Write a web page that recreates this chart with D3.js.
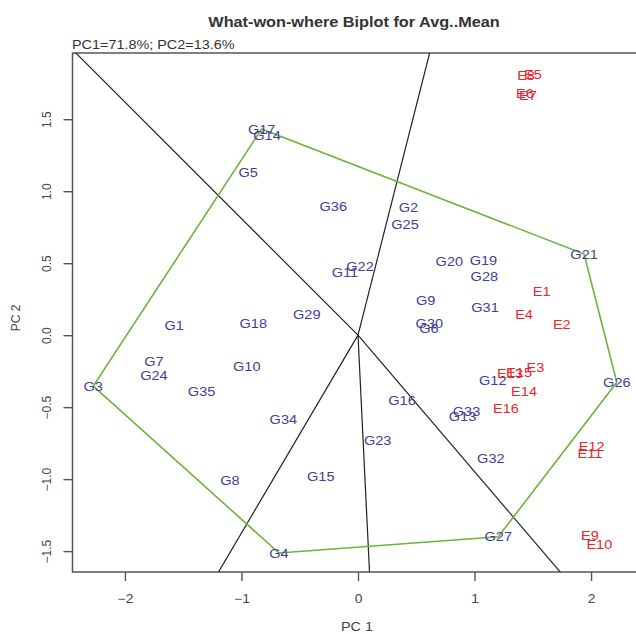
<!DOCTYPE html>
<html>
<head>
<meta charset="utf-8">
<script src="https://cdn.jsdelivr.net/npm/d3@7"></script>
<style>
	body { margin: 0; background: #fff; }
	svg { display: block; font-family: "Liberation Sans", Arial, sans-serif; }
</style>
</head>
<body>
<svg width="636" height="634"></svg>
<script>
// genotype scores (PC1, PC2)
const genotypes = ['G1','G2','G3','G4','G5','G6','G7','G8','G9','G10','G11','G12','G13','G14','G15','G16','G17','G18',
	'G19','G20','G21','G22','G23','G24','G25','G26','G27','G28','G29','G30','G31','G32','G33','G34','G35','G36']
const genoPC1 = [-1.577, 0.432, -2.272, -0.678, -0.942, 0.609, -1.751, -1.099, 0.581, -0.955, -0.112, 1.156, 0.897, -0.781, -0.320, 0.378, -0.827, -0.899,
	1.076, 0.784, 1.940, 0.017, 0.169, -1.751, 0.403, 2.221, 1.204, 1.084, -0.440, 0.612, 1.090, 1.140, 0.931, -0.641, -1.342, -0.212]
const genoPC2 = [0.071, 0.888, -0.353, -1.513, 1.129, 0.050, -0.184, -1.006, 0.240, -0.219, 0.437, -0.316, -0.561, 1.386, -0.983, -0.454, 1.432, 0.083,
	0.517, 0.511, 0.564, 0.476, -0.733, -0.277, 0.772, -0.327, -1.400, 0.406, 0.147, 0.083, 0.194, -0.855, -0.527, -0.584, -0.392, 0.897]

// environment scores
const environments = ['E1','E2','E3','E4','E5','E6','E7','E8','E9','E10','E11','E12','E13','E14','E15','E16']
const envPC1 = [1.577, 1.749, 1.522, 1.425, 1.502, 1.433, 1.459, 1.442, 1.991, 2.071, 1.991, 2.006, 1.305, 1.425, 1.382, 1.270]
const envPC2 = [0.302, 0.078, -0.226, 0.147, 1.814, 1.682, 1.665, 1.807, -1.388, -1.457, -0.820, -0.770, -0.266, -0.392, -0.256, -0.508]

// vertex genotypes of the polygon, in drawing order
const hullOrder = ['G17', 'G21', 'G26', 'G27', 'G4', 'G3']

const xTicks = [-2, -1, 0, 1, 2]
const yTicks = [-1.5, -1.0, -0.5, 0.0, 0.5, 1.0, 1.5]

const titleText = 'What-won-where Biplot for Avg..Mean'
const varText = 'PC1=71.8%; PC2=13.6%'

const frame = { left: 72.5, right: 640, top: 53, bottom: 572 }
const font = '"Liberation Sans", Arial, sans-serif'

const svg = d3.select('svg')

const x = d3.scaleLinear().domain([-2.45, 2.42]).range([frame.left, frame.right])
const y = d3.scaleLinear().domain([-1.645, 1.96]).range([frame.bottom, frame.top])

const geno = genotypes.map((name, i) => ({ name, pc1: genoPC1[i], pc2: genoPC2[i] }))
const env = environments.map((name, i) => ({ name, pc1: envPC1[i], pc2: envPC2[i] }))
const byName = new Map(geno.map(g => [g.name, g]))
const hull = hullOrder.map(n => byName.get(n))

// the picture is a bit wider than tall, so texts get a horizontal stretch
const stretched = (px, py, sx) => `translate(${px},${py}) scale(${sx},1)`

svg.append('defs').append('clipPath').attr('id', 'plot')
	.append('rect')
	.attr('x', frame.left).attr('y', frame.top)
	.attr('width', frame.right - frame.left).attr('height', frame.bottom - frame.top)

// ------- TEXTS ------- //

svg.append('text')
	.attr('transform', stretched(354, 27, 1.05))
	.attr('text-anchor', 'middle')
	.attr('font-size', 15.5).attr('font-weight', 'bold')
	.attr('fill', '#333')
	.text(titleText)

svg.append('text')
	.attr('transform', stretched(72, 49, 1.2))
	.attr('font-size', 12).attr('fill', '#333')
	.text(varText)

svg.append('text')
	.attr('transform', stretched(357, 631, 1.2))
	.attr('text-anchor', 'middle')
	.attr('font-size', 12).attr('fill', '#444')
	.text('PC 1')

svg.append('text')
	.attr('transform', 'translate(20,318) rotate(-90)')
	.attr('text-anchor', 'middle')
	.attr('font-size', 12).attr('fill', '#444')
	.text('PC 2')

// ------- AXES ------- //

const xAxis = svg.append('g')
	.attr('transform', `translate(0,${frame.bottom})`)
	.call(d3.axisBottom(x).tickValues(xTicks).tickSize(9).tickFormat(d3.format('d')))
xAxis.select('.domain').remove()
xAxis.selectAll('.tick text')
	.attr('y', 0).attr('dy', 0)
	.attr('transform', stretched(0, 31, 1.15))

const yAxis = svg.append('g')
	.attr('transform', `translate(${frame.left},0)`)
	.call(d3.axisLeft(y).tickValues(yTicks).tickSize(9).tickFormat(d3.format('.1f')))
yAxis.select('.domain').remove()
yAxis.selectAll('.tick text')
	.attr('transform', 'rotate(-90)')
	.attr('text-anchor', 'middle')
	.attr('x', 0).attr('y', -22)
	.attr('dy', 0)

svg.selectAll('.tick line').attr('stroke', '#555').attr('stroke-width', 1.4)
svg.selectAll('.tick text').attr('font-size', 12).attr('fill', '#444').attr('font-family', font)

svg.append('rect')
	.attr('x', frame.left).attr('y', frame.top)
	.attr('width', frame.right - frame.left).attr('height', frame.bottom - frame.top)
	.attr('fill', 'none').attr('stroke', '#555').attr('stroke-width', 1.5)

const plot = svg.append('g').attr('clip-path', 'url(#plot)')

// ------- RAYS ------- //
// perpendicular from origin onto each polygon side; drawn when the foot lies on the side
const rays = []
hull.forEach((a, i) => {
	const b = hull[(i + 1) % hull.length]
	const dx = b.pc1 - a.pc1, dy = b.pc2 - a.pc2
	const t = -(a.pc1 * dx + a.pc2 * dy) / (dx * dx + dy * dy)
	if (t >= 0 && t <= 1) {
		rays.push({ pc1: a.pc1 + t * dx, pc2: a.pc2 + t * dy })
	}
})

plot.selectAll('line.ray')
	.data(rays)
	.enter().append('line')
	.attr('class', 'ray')
	.attr('x1', x(0)).attr('y1', y(0))
	.attr('x2', d => x(d.pc1 * 20)).attr('y2', d => y(d.pc2 * 20))
	.attr('stroke', '#222').attr('stroke-width', 1.2)

// ------- POLYGON ------- //

plot.append('path')
	.datum(hull)
	.attr('d', d3.line().x(d => x(d.pc1)).y(d => y(d.pc2)).curve(d3.curveLinearClosed))
	.attr('fill', 'none')
	.attr('stroke', '#6cb33a').attr('stroke-width', 1.6)

// ------- LABELS ------- //

plot.selectAll('text.geno')
	.data(geno)
	.enter().append('text')
	.attr('class', 'geno')
	.attr('transform', d => stretched(x(d.pc1), y(d.pc2), 1.12))
	.attr('dy', '0.35em')
	.attr('text-anchor', 'middle')
	.attr('font-size', 13)
	.attr('fill', '#40409a')
	.text(d => d.name)

plot.selectAll('text.env')
	.data(env)
	.enter().append('text')
	.attr('class', 'env')
	.attr('transform', d => stretched(x(d.pc1), y(d.pc2), 1.12))
	.attr('dy', '0.35em')
	.attr('text-anchor', 'middle')
	.attr('font-size', 13)
	.attr('fill', '#e8262b')
	.text(d => d.name)
</script>
</body>
</html>
